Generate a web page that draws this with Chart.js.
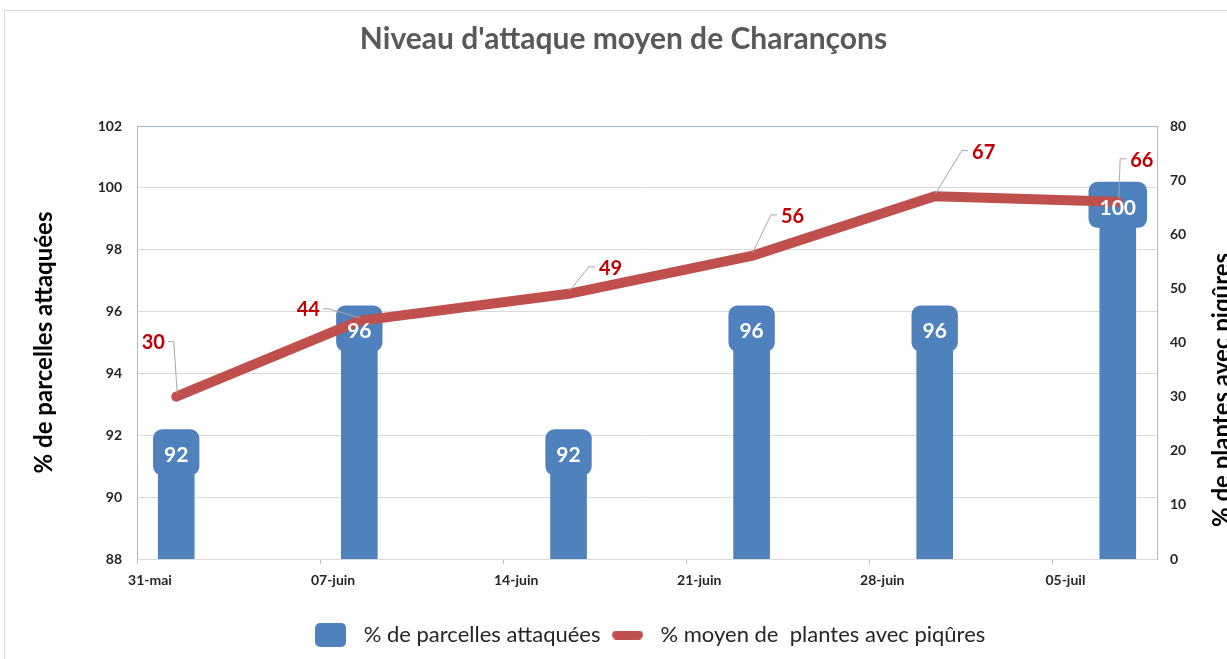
<!DOCTYPE html>
<html><head><meta charset="utf-8">
<script src="https://cdn.jsdelivr.net/npm/chart.js@4.4.0/dist/chart.umd.min.js"></script>
<style>html,body{margin:0;padding:0;background:#fff;overflow:hidden}#wrap{width:1227px;height:659px;position:relative}</style>
</head><body><div id="wrap"><canvas id="c" width="1227" height="659"></canvas></div>
<script>
const chartTitle = "Niveau d'attaque moyen de Charançons";
const barSeriesName = '% de parcelles attaquées';
const lineSeriesName = '% moyen de  plantes avec piqûres';
const leftAxisTitle = '% de parcelles attaquées';
const rightAxisTitle = '% de plantes avec piqûres';
const sampleDays = [1, 8, 16, 23, 30, 37]; // days after 31-mai
const parcellesAttaquees = [92, 96, 92, 96, 96, 100];
const plantesPiqures = [30, 44, 49, 56, 67, 66];
const tickDays = [0, 7, 14, 21, 28, 35];
const tickLabels = ['31-mai', '07-juin', '14-juin', '21-juin', '28-juin', '05-juil'];
const lineLabelOffsets = [[-23,-54],[-51,-11],[42,-25],[41,-39],[49,-44],[24,-41]];

const FONT = 'Lato, "Open Sans", sans-serif';
const BLUE = '#4f81bd', RED = '#c0504d', LABEL_RED = '#c00000';
Chart.defaults.font.family = FONT;

function makeImg(w, h, r, color) {
  const c = document.createElement('canvas');
  c.width = w; c.height = h;
  const x = c.getContext('2d');
  x.fillStyle = color;
  x.beginPath(); x.roundRect(0, 0, w, h, r); x.fill();
  return c;
}
const boxImg = makeImg(31, 24, 5, BLUE);
const pillImg = makeImg(31, 9, 4.5, RED);

const barPts = sampleDays.map((d, i) => ({x: d + 0.5, y: parcellesAttaquees[i]}));
const linePts = sampleDays.map((d, i) => ({x: d + 0.5, y: plantesPiqures[i]}));

const labelsPlugin = {
  id: 'labelsPlugin',
  beforeDraw(chart) {
    const ctx = chart.ctx;
    ctx.save();
    ctx.fillStyle = '#fff';
    ctx.fillRect(0, 0, chart.width, chart.height);
    ctx.strokeStyle = '#d9d9d9'; ctx.lineWidth = 1;
    ctx.strokeRect(4.5, 10.5, 1300, 700);
    ctx.restore();
  },
  beforeDatasetsDraw(chart) {
    const ctx = chart.ctx, a = chart.chartArea;
    ctx.save();
    ctx.strokeStyle = '#9dbbe0'; ctx.lineWidth = 1;
    ctx.beginPath(); ctx.moveTo(a.left, a.top + 0.5); ctx.lineTo(a.right, a.top + 0.5); ctx.stroke();
    ctx.restore();
  },
  afterDatasetDraw(chart, args) {
    if (args.meta.type !== 'bar') return;
    const ctx = chart.ctx;
    ctx.save();
    ctx.font = 'bold 21px ' + FONT;
    ctx.fillStyle = BLUE;
    args.meta.data.forEach((el, i) => {
      const tw = ctx.measureText(String(parcellesAttaquees[i])).width;
      const w = tw + 22;
      ctx.beginPath();
      ctx.roundRect(el.x - w / 2, el.y - 6, w, 46, 9);
      ctx.fill();
    });
    ctx.restore();
  },
  afterDatasetsDraw(chart) {
    const ctx = chart.ctx;
    ctx.save();
    const bm = chart.getDatasetMeta(0);
    ctx.font = 'bold 21px ' + FONT;
    ctx.fillStyle = '#ffffff';
    ctx.textAlign = 'center'; ctx.textBaseline = 'middle';
    bm.data.forEach((el, i) => ctx.fillText(String(parcellesAttaquees[i]), el.x, el.y + 20));
    const lm = chart.getDatasetMeta(1);
    ctx.font = 'bold 20px ' + FONT;
    lm.data.forEach((el, i) => {
      const [dx, dy] = lineLabelOffsets[i];
      const lx = el.x + dx, ly = el.y + dy;
      const txt = String(plantesPiqures[i]);
      const hw = ctx.measureText(txt).width / 2;
      ctx.strokeStyle = '#a6a6a6'; ctx.lineWidth = 1;
      ctx.beginPath();
      if (dx < 0) {
        ctx.moveTo(lx + hw + 3, ly - 1); ctx.lineTo(lx + hw + 9, ly - 1);
        ctx.lineTo(el.x + 1, el.y - 3);
      } else {
        ctx.moveTo(lx - hw - 4, ly - 2); ctx.lineTo(lx - hw - 10, ly - 2);
        ctx.lineTo(el.x + 1, el.y - 3);
      }
      ctx.stroke();
      ctx.fillStyle = LABEL_RED;
      ctx.fillText(txt, lx, ly);
    });
    ctx.restore();
  },
  afterDraw(chart) {
    const ctx = chart.ctx;
    ctx.save();
    ctx.font = 'bold 24px ' + FONT;
    ctx.fillStyle = '#000';
    ctx.translate(1230, 390);
    ctx.rotate(-Math.PI / 2);
    ctx.textAlign = 'center'; ctx.textBaseline = 'alphabetic';
    ctx.fillText(rightAxisTitle, 0, 0);
    ctx.restore();
  }
};

new Chart(document.getElementById('c'), {
  type: 'bar',
  data: {
    datasets: [
      {type: 'bar', label: barSeriesName, data: barPts, yAxisID: 'y', xAxisID: 'x',
       backgroundColor: BLUE, barThickness: 36, order: 1},
      {type: 'line', label: lineSeriesName, data: linePts, yAxisID: 'y1', xAxisID: 'x',
       borderColor: RED, borderWidth: 10, pointRadius: 0, borderCapStyle: 'round',
       borderJoinStyle: 'round', tension: 0, fill: false, order: 0}
    ]
  },
  options: {
    responsive: false,
    animation: false,
    layout: {padding: {left: 20, right: 0, top: 0, bottom: 3}},
    plugins: {
      title: {display: true, text: chartTitle, color: '#595959',
              font: {size: 30, weight: 'bold', family: FONT}, padding: {top: 21, bottom: 69}},
      legend: {
        position: 'bottom', fullSize: false,
        labels: {
          usePointStyle: true, pointStyleWidth: 44, padding: 5,
          color: '#262626', font: {size: 22, family: FONT},
          generateLabels: () => [
            {text: barSeriesName, pointStyle: boxImg, datasetIndex: 0, hidden: false, lineWidth: 0, fontColor: '#262626'},
            {text: lineSeriesName, pointStyle: pillImg, datasetIndex: 1, hidden: false, lineWidth: 0, fontColor: '#262626'}
          ]
        }
      },
      tooltip: {enabled: false}
    },
    scales: {
      x: {
        type: 'linear', min: 0, max: 39, offset: false,
        afterBuildTicks: (axis) => { axis.ticks = tickDays.map(v => ({value: v})); },
        afterFit: (s) => { s.height = 60; },
        grid: {display: true, offset: false, drawOnChartArea: false, drawTicks: true, tickLength: 5, color: '#bfbfbf'},
        border: {display: true, color: '#d9d9d9'},
        ticks: {
          autoSkip: false, maxRotation: 0, labelOffset: 13, padding: 8,
          color: '#262626', font: {size: 14, weight: 'bold', family: FONT},
          callback: (v) => { const i = tickDays.indexOf(v); return i >= 0 ? tickLabels[i] : ''; }
        }
      },
      y: {
        position: 'left', min: 88, max: 102,
        afterFit: (s) => { s.width = 117; },
        grid: {color: '#d9d9d9', drawTicks: false},
        border: {display: true, color: '#9dbbe0'},
        ticks: {stepSize: 2, padding: 15, color: '#262626', font: {size: 14, weight: 'bold', family: FONT}},
        title: {display: true, text: leftAxisTitle, color: '#000',
                font: {size: 24, weight: 'bold', family: FONT}, padding: {top: 10, bottom: 0}}
      },
      y1: {
        position: 'right', min: 0, max: 80,
        afterFit: (s) => { s.width = 70; },
        grid: {drawOnChartArea: false, drawTicks: false},
        border: {display: true, color: '#9dbbe0'},
        ticks: {stepSize: 10, padding: 13, color: '#262626', font: {size: 14, weight: 'bold', family: FONT}}
      }
    }
  },
  plugins: [labelsPlugin]
});
</script>
</body></html>
